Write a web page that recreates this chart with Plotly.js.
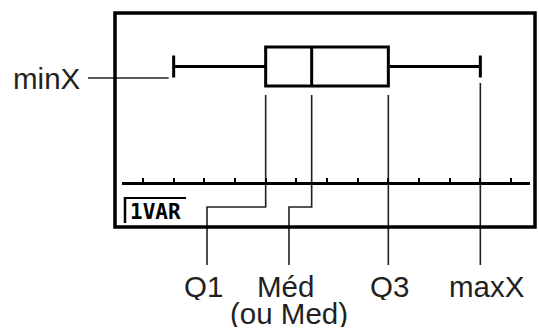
<!DOCTYPE html>
<html>
<head>
<meta charset="utf-8">
<script src="https://cdn.plot.ly/plotly-3.0.1.min.js"></script>
<style>
  html, body { margin: 0; padding: 0; background: #fff; }
  #chart { width: 539px; height: 329px; }
</style>
</head>
<body>
<div id="chart"></div>
<script>
// five-number summary on the calculator's x scale (one unit per tick mark)
const statNames = ["minX", "Q1", "Méd", "Q3", "maxX"];
const statValues = [1, 4, 5.5, 8, 11];
const tickValues = [0, 1, 2, 3, 4, 5, 6, 7, 8, 9, 10, 11, 12];
const axisSpan = [-0.68, 12.62];
const subLabel = "(ou Med)";
const screenTag = "1VAR";

// page geometry: y data == pixel row, x data is mapped from pixels
const W = 539, H = 329;
const X0 = 143, UNIT = 30.667;          // pixel of tick 0, pixels per unit
const px = p => (p - X0) / UNIT;
const INK = "#000", TXT = "#231f20";
const FONT = "Liberation Sans, Arial, sans-serif";

const [vMin, vQ1, vMed, vQ3, vMax] = statValues;

const box = {
  type: "box", orientation: "h", xaxis: "x", yaxis: "y",
  y: [66.5], q1: [vQ1], median: [vMed], q3: [vQ3],
  lowerfence: [vMin], upperfence: [vMax],
  width: 39, whiskerwidth: 0.57, boxpoints: false,
  fillcolor: "rgba(0,0,0,0)", line: { color: INK, width: 3 },
  hoverinfo: "skip",
};

// leader lines from each statistic down/out to its caption
const leaders = [
  { x: [px(88), vMin - 5 / UNIT], y: [78, 78] },
  { x: [vQ1, vQ1, px(207), px(207)], y: [95, 207, 207, 265] },
  { x: [vMed, vMed, px(289), px(289)], y: [95, 207, 207, 265] },
  { x: [vQ3, vQ3], y: [95, 265] },
  { x: [vMax, vMax], y: [83, 265] },
].map(l => Object.assign(l, {
  type: "scatter", mode: "lines", hoverinfo: "skip",
  line: { color: TXT, width: 1.6 },
}));

// invisible trace so the calculator axis gets its own x axis
const axisHost = { type: "scatter", mode: "markers", x: [axisSpan[0]], y: [183],
  xaxis: "x2", yaxis: "y", marker: { opacity: 0 }, hoverinfo: "skip" };

const labelPos = [[83, 78, "right"], [203, 286, "center"], [285, 286, "center"],
                  [389, 286, "center"], [487, 286, "center"]];
const annotations = statNames.map((t, i) => ({
  text: t, x: px(labelPos[i][0]), y: labelPos[i][1], xref: "x", yref: "y",
  xanchor: labelPos[i][2], yanchor: "middle", showarrow: false,
  height: 28, valign: "middle",
  font: { family: FONT, size: 29.5, color: TXT },
}));
annotations.push({
  text: subLabel, x: px(289), y: 313, xref: "x", yref: "y",
  xanchor: "center", yanchor: "middle", showarrow: false,
  height: 28, valign: "middle",
  font: { family: FONT, size: 29.5, color: TXT },
});
annotations.push({
  text: "<b>" + screenTag + "</b>", x: px(128), y: 212, xref: "x", yref: "y",
  xanchor: "left", yanchor: "middle", showarrow: false,
  font: { family: "DejaVu Sans Mono, monospace", size: 21, color: INK },
});

const shapes = [
  // calculator screen frame
  { type: "rect", xref: "x", yref: "y", x0: px(115), x1: px(535), y0: 13, y1: 227,
    line: { color: INK, width: 3.5 } },
  // bracket around the 1VAR tag
  { type: "line", xref: "x", yref: "y", x0: px(125), x1: px(186), y0: 198, y1: 198,
    line: { color: INK, width: 2 } },
  { type: "line", xref: "x", yref: "y", x0: px(125), x1: px(125), y0: 197, y1: 223,
    line: { color: INK, width: 2.5 } },
];

const layout = {
  width: W, height: H, autosize: false,
  margin: { l: 0, r: 0, t: 0, b: 0 },
  paper_bgcolor: "#fff", plot_bgcolor: "rgba(0,0,0,0)",
  showlegend: false,
  xaxis: { range: [px(0), px(W)], visible: false, fixedrange: true },
  yaxis: { range: [H, 0], visible: false, fixedrange: true },
  xaxis2: {
    domain: [(X0 + axisSpan[0] * UNIT) / W, (X0 + axisSpan[1] * UNIT) / W],
    range: axisSpan, anchor: "free", position: (H - 183) / H,
    tickmode: "array", tickvals: tickValues, showticklabels: false,
    ticks: "inside", ticklen: 4, tickwidth: 2, tickcolor: INK,
    showline: true, linecolor: INK, linewidth: 2.5,
    showgrid: false, zeroline: false, fixedrange: true,
  },
  shapes, annotations,
};

Plotly.newPlot("chart", [box, ...leaders, axisHost], layout, { displayModeBar: false, staticPlot: true });
</script>
</body>
</html>
